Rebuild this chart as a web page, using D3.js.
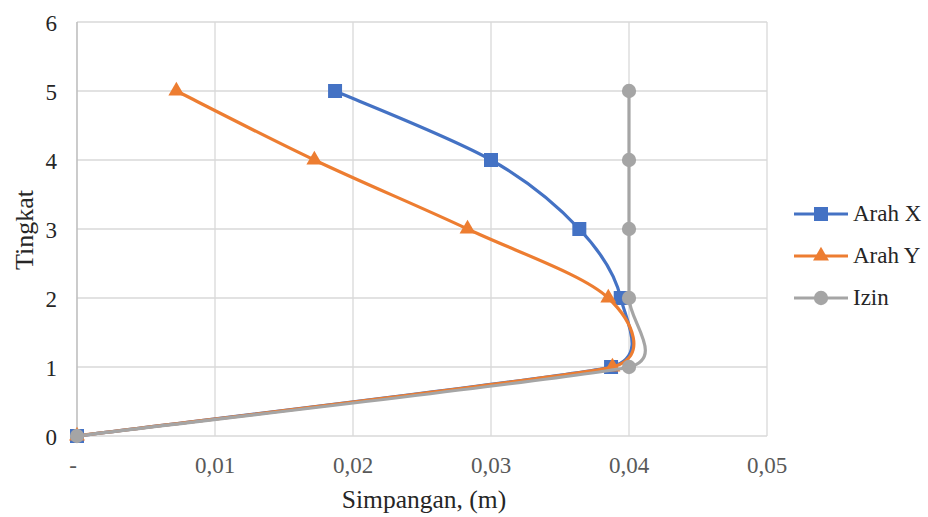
<html>
<head>
<meta charset="utf-8">
<script src="https://cdn.jsdelivr.net/npm/d3@7"></script>
</head>
<body style="margin:0">
<svg id="chart" width="928" height="517"></svg>
<script>
// Storey levels and lateral drift (m) per direction
const storeys = [0, 1, 2, 3, 4, 5];
const arahX   = [0, 0.0387, 0.0394, 0.0364, 0.0300, 0.0187];
const arahY   = [0, 0.0388, 0.0385, 0.0283, 0.0172, 0.0072];
const izin    = [0, 0.04, 0.04, 0.04, 0.04, 0.04];

const seriesNames = ["Arah X", "Arah Y", "Izin"];
const xTicks = [0, 0.01, 0.02, 0.03, 0.04, 0.05];
const xTickLabels = ["-", "0,01", "0,02", "0,03", "0,04", "0,05"];
const yTicks = [0, 1, 2, 3, 4, 5, 6];

const colors = { "Arah X": "#4472C4", "Arah Y": "#ED7D31", "Izin": "#A5A5A5" };
const shapes = { "Arah X": "square", "Arah Y": "triangle", "Izin": "circle" };
const FONT = "Times New Roman";
const TEXT_COLOR = "#262626";
const TICK_COLOR = "#595959";

const svg = d3.select("#chart").style("font-family", FONT);
const plot = { left: 77, right: 767, top: 22, bottom: 436 };

const x = d3.scaleLinear().domain([0, 0.05]).range([plot.left, plot.right]);
const y = d3.scaleLinear().domain([0, 6]).range([plot.bottom, plot.top]);

// Gridlines
const grid = svg.append("g");
grid.selectAll("line.v").data(xTicks.slice(1)).join("line")
  .attr("x1", d => x(d)).attr("x2", d => x(d))
  .attr("y1", plot.top).attr("y2", plot.bottom)
  .attr("stroke", "#D9D9D9").attr("stroke-width", 1.3);
grid.selectAll("line.h").data(yTicks).join("line")
  .attr("x1", plot.left).attr("x2", plot.right)
  .attr("y1", d => y(d)).attr("y2", d => y(d))
  .attr("stroke", "#D9D9D9").attr("stroke-width", 1.3);
// Vertical axis line
svg.append("line")
  .attr("x1", x(0)).attr("x2", x(0)).attr("y1", plot.top).attr("y2", plot.bottom)
  .attr("stroke", "#BFBFBF").attr("stroke-width", 1.6);

// Tick labels
svg.append("g").selectAll("text").data(yTicks).join("text")
  .attr("x", 57).attr("y", d => y(d) + 9)
  .attr("text-anchor", "end")
  .attr("font-family", FONT).attr("fill", TEXT_COLOR)
  .attr("font-size", 23)
  .text(d => d);
svg.append("g").selectAll("text").data(xTicks).join("text")
  .attr("x", (d, i) => i === 0 ? x(d) - 4 : x(d)).attr("y", 473)
  .attr("text-anchor", "middle")
  .attr("font-family", FONT).attr("fill", TICK_COLOR)
  .attr("font-size", 23)
  .text((d, i) => xTickLabels[i]);

// Axis titles
svg.append("text")
  .attr("x", 424).attr("y", 508)
  .attr("text-anchor", "middle").attr("font-size", 25.5)
  .attr("font-family", FONT).attr("fill", TEXT_COLOR)
  .text("Simpangan, (m)");
svg.append("text")
  .attr("transform", "translate(33,230) rotate(-90)")
  .attr("text-anchor", "middle").attr("font-size", 26)
  .attr("font-family", FONT).attr("fill", TEXT_COLOR)
  .text("Tingkat");

// Smoothed line: cubic Bezier through the points, tangents from neighbours (1/6),
// each tangent capped relative to the shorter adjacent segment.
function smoothPath(pts) {
  const p = d3.path();
  const n = pts.length;
  const dist = (a, b) => Math.hypot(b[0] - a[0], b[1] - a[1]);
  const tan = pts.map((pt, i) => {
    const prev = pts[Math.max(0, i - 1)], next = pts[Math.min(n - 1, i + 1)];
    let tx = (next[0] - prev[0]) / 6, ty = (next[1] - prev[1]) / 6;
    const segs = [];
    if (i > 0) segs.push(dist(pts[i - 1], pt));
    if (i < n - 1) segs.push(dist(pt, pts[i + 1]));
    const cap = 0.55 * Math.min(...segs);
    const len = Math.hypot(tx, ty);
    if (len > cap && len > 0) { tx *= cap / len; ty *= cap / len; }
    return [tx, ty];
  });
  p.moveTo(pts[0][0], pts[0][1]);
  for (let i = 0; i < n - 1; i++) {
    const a = pts[i], b = pts[i + 1];
    p.bezierCurveTo(a[0] + tan[i][0], a[1] + tan[i][1],
                    b[0] - tan[i + 1][0], b[1] - tan[i + 1][1],
                    b[0], b[1]);
  }
  return p.toString();
}

const symbolFor = {
  square: d3.symbol().type(d3.symbolSquare).size(196),
  triangle: d3.symbol().type(d3.symbolTriangle).size(110),
  circle: d3.symbol().type(d3.symbolCircle).size(160)
};

const seriesData = [
  { name: "Arah X", values: arahX },
  { name: "Arah Y", values: arahY },
  { name: "Izin", values: izin }
];

seriesData.forEach(s => {
  const pts = s.values.map((v, i) => [x(v), y(storeys[i])]);
  const g = svg.append("g");
  g.append("path")
    .attr("d", smoothPath(pts))
    .attr("fill", "none")
    .attr("stroke", colors[s.name])
    .attr("stroke-width", 3.2)
    .attr("stroke-linecap", "round");
  g.selectAll("path.m").data(pts).join("path")
    .attr("class", "m")
    .attr("transform", d => `translate(${d[0]},${d[1]})`)
    .attr("d", symbolFor[shapes[s.name]])
    .attr("fill", colors[s.name]);
});

// Legend
const legend = svg.append("g");
seriesNames.forEach((name, i) => {
  const ly = 214 + i * 42;
  legend.append("line")
    .attr("x1", 794).attr("x2", 848).attr("y1", ly).attr("y2", ly)
    .attr("stroke", colors[name]).attr("stroke-width", 3.2);
  legend.append("path")
    .attr("transform", `translate(821,${ly})`)
    .attr("d", symbolFor[shapes[name]])
    .attr("fill", colors[name]);
  legend.append("text")
    .attr("x", 853).attr("y", ly + 7)
    .attr("font-size", 23)
    .attr("font-family", FONT).attr("fill", TEXT_COLOR)
    .text(name);
});
</script>
</body>
</html>
